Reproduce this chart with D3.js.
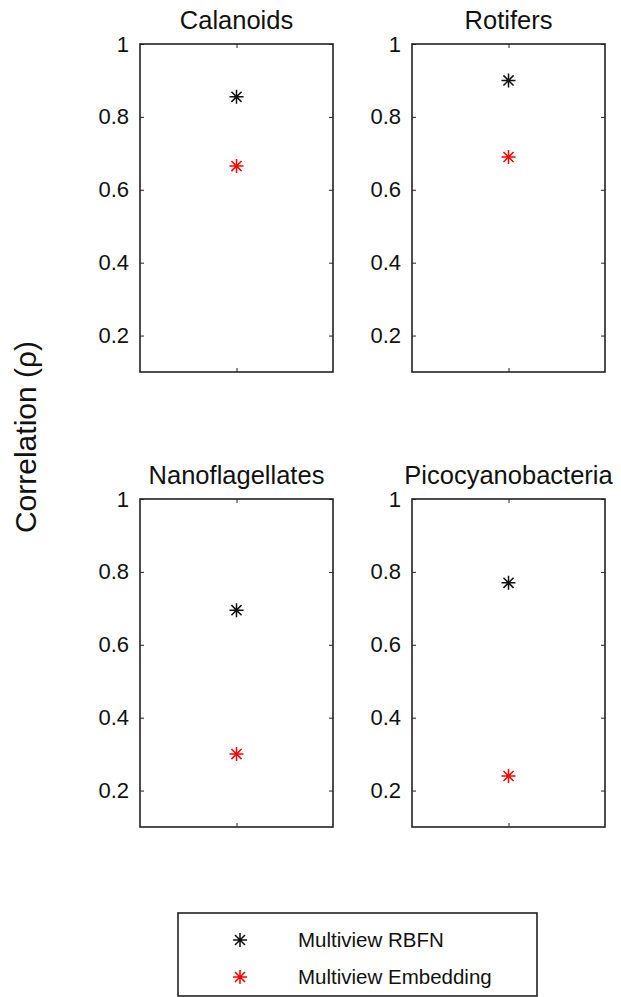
<!DOCTYPE html>
<html>
<head>
<meta charset="utf-8">
<script src="https://cdn.jsdelivr.net/npm/d3@7"></script>
<style>
  body { margin: 0; background: #fff; }
  text { font-family: "Liberation Sans", Arial, sans-serif; fill: #111; }
</style>
</head>
<body>
<script>
// data
const groups = ["Calanoids", "Rotifers", "Nanoflagellates", "Picocyanobacteria"];
const rbfnValues = [0.855, 0.90, 0.695, 0.77];
const embeddingValues = [0.665, 0.69, 0.30, 0.24];
const seriesNames = ["Multiview RBFN", "Multiview Embedding"];
const seriesColors = ["#111111", "#ff0000"];
const yTicks = [0.2, 0.4, 0.6, 0.8, 1];

const width = 621;
const height = 997;
const panelW = 193;
const panelH = 328;
const colX = [140, 412];
const rowY = [44, 499];

const svg = d3.select("body")
      .append("svg")
      .attr("width", width)
      .attr("height", height);

// asterisk marker (plus + cross), like matlab '*'
function asterisk(cx, cy, r) {
      const d = r * 0.72;
      return `M${cx - r},${cy}L${cx + r},${cy}` +
             `M${cx},${cy - r}L${cx},${cy + r}` +
             `M${cx - d},${cy - d}L${cx + d},${cy + d}` +
             `M${cx - d},${cy + d}L${cx + d},${cy - d}`;
}

function renderPanel(i) {
      const g = svg.append("g")
            .attr("transform", `translate(${colX[i % 2]}, ${rowY[Math.floor(i / 2)]})`);

      const xScale = d3.scaleLinear().domain([0, 2]).range([0, panelW]);
      const yScale = d3.scaleLinear().domain([0.1, 1]).range([panelH, 0]);

      // left axis with labels, ticks pointing inward
      g.append("g")
            .call(d3.axisLeft(yScale).tickValues(yTicks).tickSizeInner(-4).tickSizeOuter(0)
                  .tickPadding(11).tickFormat(d => String(d)))
            .call(a => a.select(".domain").remove())
            .call(a => a.selectAll(".tick text").style("font-size", "22px").attr("fill", "#111"))
            .call(a => a.selectAll(".tick line").attr("stroke", "#222"));

      // mirrored ticks on right
      g.append("g")
            .attr("transform", `translate(${panelW}, 0)`)
            .call(d3.axisRight(yScale).tickValues(yTicks).tickSizeInner(-4).tickSizeOuter(0).tickFormat(""))
            .call(a => a.select(".domain").remove())
            .call(a => a.selectAll(".tick line").attr("stroke", "#222"));

      // x ticks at center, bottom and top
      g.append("g")
            .attr("transform", `translate(0, ${panelH})`)
            .call(d3.axisBottom(xScale).tickValues([1]).tickSizeInner(-4).tickSizeOuter(0).tickFormat(""))
            .call(a => a.select(".domain").remove())
            .call(a => a.selectAll(".tick line").attr("stroke", "#222"));
      g.append("g")
            .call(d3.axisTop(xScale).tickValues([1]).tickSizeInner(-4).tickSizeOuter(0).tickFormat(""))
            .call(a => a.select(".domain").remove())
            .call(a => a.selectAll(".tick line").attr("stroke", "#222"));

      g.append("rect")
            .attr("width", panelW)
            .attr("height", panelH)
            .attr("fill", "none")
            .attr("stroke", "#222")
            .attr("stroke-width", 1.6);

      g.append("text")
            .attr("x", xScale(1))
            .attr("y", -15)
            .attr("text-anchor", "middle")
            .style("font-size", "25.5px")
            .text(groups[i]);

      const vals = [rbfnValues[i], embeddingValues[i]];
      g.selectAll("path.mark")
            .data(vals)
            .enter()
            .append("path")
            .attr("class", "mark")
            .attr("d", v => asterisk(xScale(1), yScale(v), 7))
            .attr("fill", "none")
            .attr("stroke", (v, k) => seriesColors[k])
            .attr("stroke-width", 1.5);
}

groups.forEach((grp, i) => renderPanel(i));

// shared y label
svg.append("text")
      .attr("transform", "translate(36, 437) rotate(-90)")
      .attr("text-anchor", "middle")
      .style("font-size", "30px")
      .text("Correlation (\u03c1)");

// legend
const legend = svg.append("g").attr("transform", "translate(178, 913)");
legend.append("rect")
      .attr("width", 359)
      .attr("height", 83)
      .attr("fill", "#fff")
      .attr("stroke", "#222")
      .attr("stroke-width", 1.6);

const legendY = d3.scalePoint().domain(seriesNames).range([27, 64]);
seriesNames.forEach((name, k) => {
      legend.append("path")
            .attr("d", asterisk(62, legendY(name), 7))
            .attr("fill", "none")
            .attr("stroke", seriesColors[k])
            .attr("stroke-width", 1.5);
      legend.append("text")
            .attr("x", 120)
            .attr("y", legendY(name) + 7)
            .style("font-size", "20.5px")
            .text(name);
});
</script>
</body>
</html>
